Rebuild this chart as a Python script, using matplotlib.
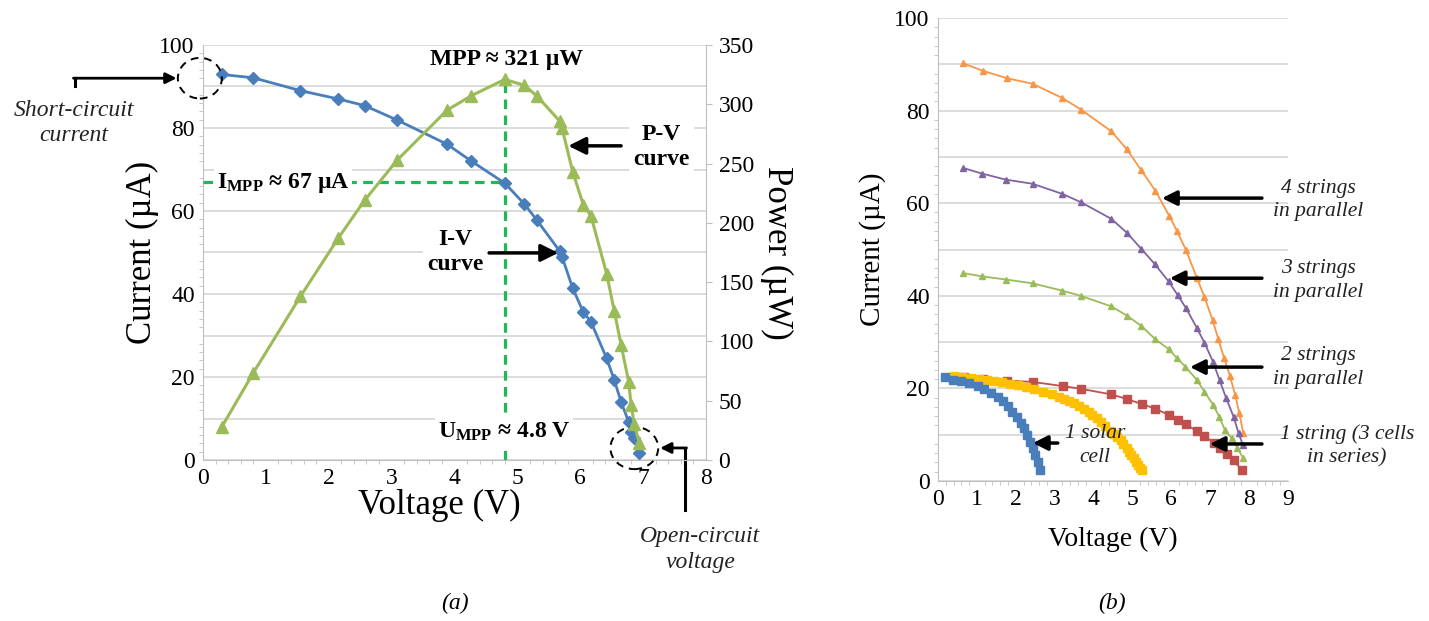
import matplotlib
matplotlib.use("Agg")
import matplotlib.pyplot as plt
from matplotlib.patches import Ellipse

plt.rcParams['font.family'] = ['Liberation Serif', 'DejaVu Serif']
plt.rcParams['mathtext.fontset'] = 'custom'
plt.rcParams['mathtext.rm'] = 'Liberation Serif'
plt.rcParams['mathtext.bf'] = 'Liberation Serif:bold'
plt.rcParams['mathtext.it'] = 'Liberation Serif:italic'

# ---- (a) single cell I-V and P-V curves ----
volt_a = [0.30, 0.80, 1.55, 2.15, 2.57, 3.09, 3.88, 4.26, 4.80, 5.11, 5.31,
          5.67, 5.71, 5.88, 6.05, 6.17, 6.42, 6.54, 6.65, 6.77, 6.81, 6.86, 6.94]
current_a = [92.9, 92.1, 89.0, 87.0, 85.4, 81.9, 76.1, 72.1, 66.7, 61.7, 57.8,
             50.4, 49.0, 41.4, 35.6, 33.3, 24.5, 19.3, 14.0, 9.2, 6.8, 5.2, 1.6]
power_a = [28, 73.5, 138, 187, 219, 253, 295, 307, 321, 316, 307,
           286, 280, 243, 215, 206, 157, 126, 97, 66, 46, 30, 14]

# ---- (b) series / parallel combinations ----
v_cell = [0.18, 0.38, 0.59, 0.80, 1.02, 1.19, 1.36, 1.53, 1.66, 1.79, 1.91,
          2.03, 2.13, 2.21, 2.30, 2.37, 2.43, 2.49, 2.56, 2.62]
i_cell = [22.4, 21.9, 21.5, 21.1, 20.5, 19.8, 19.0, 18.1, 17.2, 16.1, 15.0,
          13.9, 12.6, 11.4, 10.0, 8.5, 7.1, 5.6, 4.2, 2.4]

v_two = [0.42, 0.62, 0.85, 1.05, 1.25, 1.45, 1.65, 1.85, 2.05, 2.25, 2.47,
         2.70, 2.94, 3.10, 3.24, 3.38, 3.50, 3.63, 3.75, 3.87, 3.97, 4.08,
         4.18, 4.30, 4.42, 4.52, 4.61, 4.70, 4.76, 4.85, 4.91, 4.97, 5.03,
         5.09, 5.14, 5.20, 5.25]
i_two = [22.6, 22.4, 22.2, 22.0, 21.8, 21.6, 21.3, 21.0, 20.7, 20.3, 19.8,
         19.3, 18.7, 18.2, 17.7, 17.2, 16.8, 16.2, 15.5, 14.9, 14.3, 13.6,
         12.8, 11.9, 10.9, 10.2, 9.6, 8.8, 8.0, 7.2, 6.3, 5.6, 4.9,
         4.2, 3.5, 2.9, 2.4]

v_string = [0.67, 1.15, 1.77, 2.43, 3.21, 3.68, 4.46, 4.86, 5.25, 5.59, 5.93,
            6.16, 6.38, 6.66, 6.85, 7.09, 7.26, 7.43, 7.60, 7.81]
i_string = [22.4, 22.1, 21.7, 21.4, 20.5, 19.9, 18.7, 17.7, 16.6, 15.6, 14.3,
            13.2, 12.3, 10.7, 9.7, 8.3, 7.1, 5.8, 4.5, 2.4]

v_par2 = [0.65, 1.13, 1.76, 2.43, 3.20, 3.67, 4.46, 4.86, 5.23, 5.59, 5.93,
          6.15, 6.36, 6.66, 6.85, 7.08, 7.23, 7.38, 7.56, 7.70, 7.85]
i_par2 = [44.9, 44.2, 43.5, 42.7, 41.1, 40.0, 37.7, 35.7, 33.5, 30.6, 28.5,
          26.5, 24.7, 21.8, 19.3, 16.4, 13.9, 11.0, 9.2, 7.1, 4.9]

v_par3 = [0.65, 1.13, 1.74, 2.43, 3.20, 3.68, 4.46, 4.86, 5.22, 5.57, 5.93,
          6.16, 6.38, 6.66, 6.85, 7.07, 7.24, 7.41, 7.60, 7.73, 7.84]
i_par3 = [67.6, 66.4, 65.1, 64.2, 62.0, 60.2, 56.6, 53.6, 50.2, 46.9, 43.1,
          40.2, 37.3, 33.0, 29.9, 25.8, 21.8, 17.9, 13.9, 10.3, 7.8]

v_par4 = [0.65, 1.15, 1.77, 2.43, 3.20, 3.68, 4.46, 4.86, 5.22, 5.59, 5.95,
          6.15, 6.37, 6.66, 6.85, 7.06, 7.21, 7.36, 7.51, 7.64, 7.75, 7.85]
i_par4 = [90.2, 88.6, 87.0, 85.8, 82.7, 80.2, 75.5, 71.6, 67.2, 62.7, 57.2,
          53.9, 50.0, 43.8, 39.8, 34.8, 30.6, 26.5, 22.6, 18.6, 14.6, 10.3]

W, H = 1429, 621
fig = plt.figure(figsize=(W / 100, H / 100), dpi=100)


def box(x0, y0, x1, y1):
    # pixel box -> figure fraction
    return [x0 / W, 1 - y1 / H, (x1 - x0) / W, (y1 - y0) / H]


grid_c = '#D9D9D9'
spine_c = '#BFBFBF'
arrow = dict(arrowstyle='-|>', lw=2.5, color='black', mutation_scale=26,
             shrinkA=0, shrinkB=0)

# ======================= (a) =======================
ax = fig.add_axes(box(203, 45, 706, 460))
ax.set_xlim(0, 8)
ax.set_ylim(0, 100)
ax.set_yticks(range(0, 101, 10), minor=False)
ax.set_yticks(range(0, 101, 2), minor=True)
ax.set_xticks(range(0, 9))
ax.set_xticks([i * 0.2 for i in range(41)], minor=True)
ax.set_yticklabels([str(v) if v % 20 == 0 else '' for v in range(0, 101, 10)])
ax.grid(axis='y', color=grid_c, lw=1.3)
ax.tick_params(which='major', length=0, labelsize=17, pad=6)
ax.tick_params(which='minor', length=3, color=spine_c)
for s in ['top', 'right']:
    ax.spines[s].set_visible(False)
for s in ['left', 'bottom']:
    ax.spines[s].set_color(spine_c)

ax.plot(volt_a, current_a, color='#4A7EBB', lw=2, marker='D', ms=6.5,
        mfc='#4A7EBB', mec='#4A7EBB', zorder=4)
ax.set_xlabel('Voltage (V)', fontsize=25)
ax.xaxis.set_label_coords(0.47, -0.07, transform=ax.transAxes)
ax.xaxis.label.set_va('top')
ax.set_ylabel('Current (µA)', fontsize=25, labelpad=0)

ax2 = ax.twinx()
ax2.set_ylim(0, 350)
ax2.set_yticks(range(0, 351, 50))
ax2.tick_params(length=4, color=spine_c, labelsize=17, pad=5)
for s in ['top', 'left', 'bottom']:
    ax2.spines[s].set_visible(False)
ax2.spines['right'].set_color(spine_c)
ax2.plot(volt_a, power_a, color='#9BBB59', lw=2.2, marker='^', ms=8,
         mfc='#9BBB59', mec='#9BBB59', zorder=4)
ax2.set_ylabel('Power (µW)', fontsize=25, rotation=270, labelpad=28)

# maximum power point guides
mpp_v, mpp_i, mpp_p = 4.8, 67, 321
ax.plot([0, mpp_v], [mpp_i, mpp_i], color='#1DB954', ls=(0, (3, 2)), lw=2.3,
        zorder=3)
ax.plot([mpp_v, mpp_v], [0, mpp_p / 3.5], color='#1DB954', ls=(0, (3, 2)),
        lw=2.3, zorder=3)

bold = dict(fontsize=17, fontweight='bold', ha='center', va='center',
            zorder=6)
ax.text(4.82, 96.4, 'MPP ≈ 321 µW', bbox=dict(fc='white', ec='none', pad=1),
        **bold)
ax.text(1.27, 66.7, r'$\mathbf{I_{MPP}}$ ≈ 67 µA',
        bbox=dict(fc='white', ec='none', pad=2), **bold)
ax.text(4.79, 6.9, r'$\mathbf{U_{MPP}}$ ≈ 4.8 V',
        bbox=dict(fc='white', ec='none', pad=2), **bold)
ax.text(7.29, 75.5, 'P-V\ncurve', linespacing=1.25,
        bbox=dict(fc='white', ec='none', pad=3), **bold)
ax.text(4.01, 50.0, 'I-V\ncurve', linespacing=1.25,
        bbox=dict(fc='white', ec='none', pad=3), **bold)
ax.annotate('', xy=(5.81, 75.7), xytext=(6.65, 75.7), arrowprops=arrow,
            zorder=7)
ax.annotate('', xy=(5.65, 49.9), xytext=(4.55, 49.9), arrowprops=arrow,
            zorder=7)

# short-circuit / open-circuit markers
ax.add_patch(Ellipse((-0.05, 92.0), 0.70, 9.8, fill=False, ls=(0, (4, 3)),
                     lw=1.4, ec='black', clip_on=False, zorder=5))
ax.add_patch(Ellipse((6.86, 2.9), 0.76, 10.2, fill=False, ls=(0, (4, 3)),
                     lw=1.4, ec='black', clip_on=False, zorder=5))
ax.plot([-2.04, -2.04], [90.0, 92.0], color='black', lw=2.2, clip_on=False)
ax.annotate('', xy=(-0.42, 92.0), xytext=(-2.06, 92.0),
            arrowprops=dict(arrowstyle='-|>', lw=2, color='black',
                            mutation_scale=16, shrinkA=0, shrinkB=0),
            annotation_clip=False)
ax.plot([7.67, 7.67], [-12.0, 2.9], color='black', lw=2.2, clip_on=False)
ax.annotate('', xy=(7.27, 2.9), xytext=(7.69, 2.9),
            arrowprops=dict(arrowstyle='-|>', lw=2, color='black',
                            mutation_scale=16, shrinkA=0, shrinkB=0),
            annotation_clip=False)
ax.text(-2.05, 81.2, 'Short-circuit\ncurrent', fontsize=17, style='italic',
        ha='center', va='center', linespacing=1.3, color='#222222')
ax.text(7.91, -21.6, 'Open-circuit\nvoltage', fontsize=17, style='italic',
        ha='center', va='center', linespacing=1.3, color='#222222')

# ======================= (b) =======================
bx = fig.add_axes(box(938, 18, 1288, 481))
bx.set_xlim(0, 9)
bx.set_ylim(0, 100)
bx.set_xticks(range(0, 10))
bx.set_xticks([i * 0.2 for i in range(46)], minor=True)
bx.set_yticks(range(0, 101, 10))
bx.set_yticks(range(0, 101, 2), minor=True)
bx.set_yticklabels([str(v) if v % 20 == 0 else '' for v in range(0, 101, 10)])
bx.grid(axis='y', color=grid_c, lw=1.3)
bx.tick_params(which='major', length=0, labelsize=17, pad=6)
bx.tick_params(which='minor', length=3, color=spine_c)
for s in ['top', 'right']:
    bx.spines[s].set_visible(False)
for s in ['left', 'bottom']:
    bx.spines[s].set_color(spine_c)

bx.plot(v_par4, i_par4, color='#F79646', lw=1.3, marker='^', ms=5)
bx.plot(v_par3, i_par3, color='#8064A2', lw=1.3, marker='^', ms=5)
bx.plot(v_par2, i_par2, color='#9BBB59', lw=1.3, marker='^', ms=5)
bx.plot(v_string, i_string, color='#C0504D', lw=1.3, marker='s', ms=5.5)
bx.plot(v_two, i_two, color='#FFC000', lw=1.3, marker='s', ms=6)
bx.plot(v_cell, i_cell, color='#4A7EBB', lw=1.3, marker='s', ms=6)
bx.set_xlabel('Voltage (V)', fontsize=20, labelpad=12)
bx.set_ylabel('Current (µA)', fontsize=21, labelpad=6)

ital = dict(fontsize=15.5, style='italic', ha='center', va='center',
            linespacing=1.35, color='#222222')
bx.text(9.77, 60.7, '4 strings\nin parallel', **ital)
bx.text(9.77, 43.4, '3 strings\nin parallel', **ital)
bx.text(9.77, 24.6, '2 strings\nin parallel', **ital)
bx.text(10.51, 7.6, '1 string (3 cells\nin series)', **ital)
bx.text(4.04, 7.6, '1 solar\ncell', zorder=6, **ital)
barrow = dict(arrowstyle='-|>', lw=2.5, color='black', mutation_scale=22,
              shrinkA=0, shrinkB=0)
for y, tip in [(61.1, 5.76), (43.8, 5.96), (24.6, 6.48), (8.0, 6.99)]:
    bx.annotate('', xy=(tip, y), xytext=(8.33, y), arrowprops=barrow,
                annotation_clip=False, zorder=7)
bx.annotate('', xy=(2.44, 8.2), xytext=(3.08, 8.2), arrowprops=barrow,
            zorder=7)

fig.text(455 / W, 1 - 603 / H, '(a)', fontsize=17, style='italic',
         ha='center', va='center')
fig.text(1112 / W, 1 - 603 / H, '(b)', fontsize=17, style='italic',
         ha='center', va='center')

fig.savefig('out.png', dpi=100)
